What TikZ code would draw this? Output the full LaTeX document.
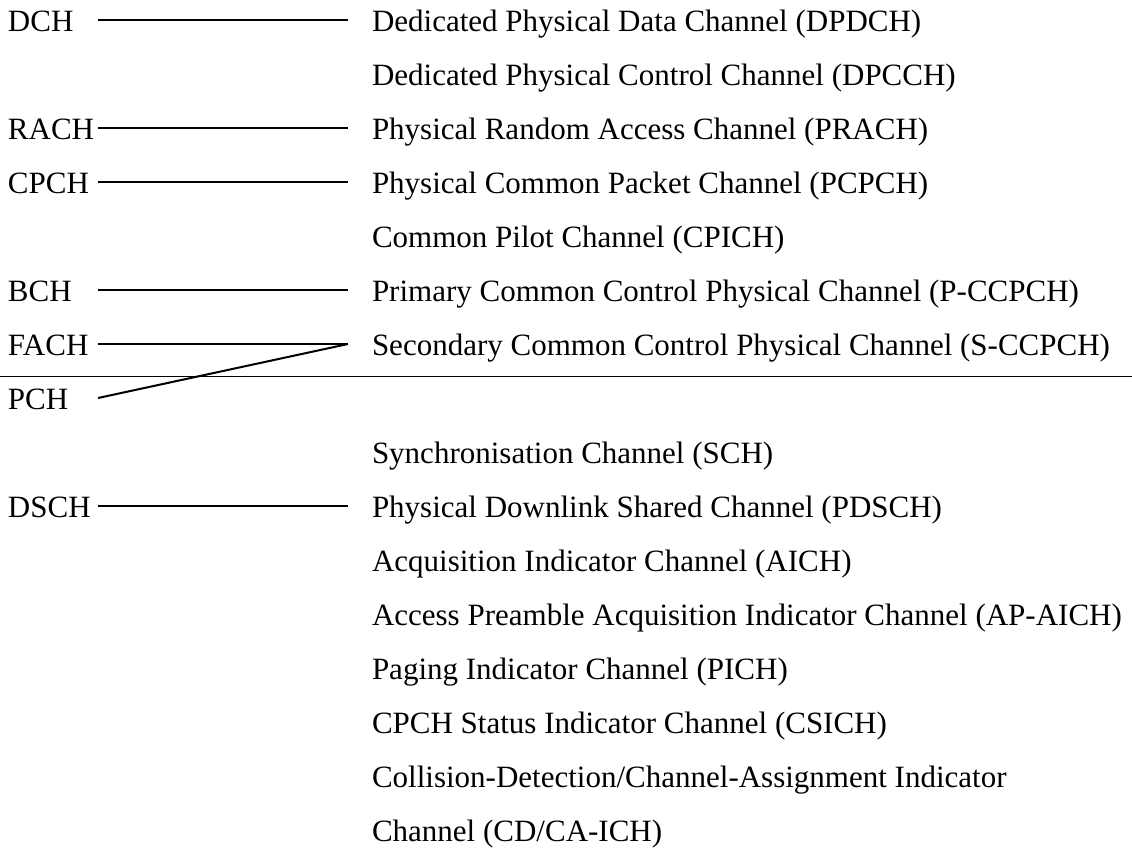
\documentclass[tikz,border=0pt]{standalone}
\usepackage{fontspec}
\setmainfont{Liberation Serif}

\begin{document}
\begin{tikzpicture}[x=1pt, y=-1pt,
  every node/.style={font=\fontsize{31}{36}\selectfont, inner sep=0pt,
    outer ysep=0pt, text height=22pt, text depth=0pt},
  transp/.style={anchor=base west, text width=82pt, align=left, outer xsep=8pt},
  phys/.style={anchor=base west, outer xsep=24pt},
  link/.style={line width=2pt}]
  \useasboundingbox (0,0) rectangle (1132,847);
  % canais de transporte
  \node[transp] (dch)  at (0,31)  {DCH};
  \node[transp] (rach) at (0,139) {RACH};
  \node[transp] (cpch) at (0,193) {CPCH};
  \node[transp] (bch)  at (0,301) {BCH};
  \node[transp] (fach) at (0,355) {FACH};
  \node[transp] (pch)  at (0,409) {PCH};
  \node[transp] (dsch) at (0,517) {DSCH};
  % canais fisicos
  \node[phys] (dpdch)  at (348,31)  {Dedicated Physical Data Channel (DPDCH)};
  \node[phys] (dpcch)  at (348,85)  {Dedicated Physical Control Channel (DPCCH)};
  \node[phys] (prach)  at (348,139) {Physical Random Access Channel (PRACH)};
  \node[phys] (pcpch)  at (348,193) {Physical Common Packet Channel (PCPCH)};
  \node[phys] (cpich)  at (348,247) {Common Pilot Channel (CPICH)};
  \node[phys] (pccpch) at (348,301) {Primary Common Control Physical Channel (P-CCPCH)};
  \node[phys] (sccpch) at (348,355) {Secondary Common Control Physical Channel (S-CCPCH)};
  \node[phys] (sch)    at (348,463) {Synchronisation Channel (SCH)};
  \node[phys] (pdsch)  at (348,517) {Physical Downlink Shared Channel (PDSCH)};
  \node[phys] (aich)   at (348,571) {Acquisition Indicator Channel (AICH)};
  \node[phys] (apaich) at (348,625) {Access Preamble Acquisition Indicator Channel (AP-AICH)};
  \node[phys] (pich)   at (348,679) {Paging Indicator Channel (PICH)};
  \node[phys] (csich)  at (348,733) {CPCH Status Indicator Channel (CSICH)};
  \node[phys] (cdca)   at (348,787) {Collision-Detection/Channel-Assignment Indicator};
  \node[phys] (cdca2)  at (348,841) {Channel (CD/CA-ICH)};
  % mapeamento
  \draw[link] (dch.east)  -- (dpdch.west);
  \draw[link] (rach.east) -- (prach.west);
  \draw[link] (cpch.east) -- (pcpch.west);
  \draw[link] (bch.east)  -- (pccpch.west);
  \draw[link] (fach.east) -- (sccpch.west);
  \draw[link] (pch.east)  -- (sccpch.west);
  \draw[link] (dsch.east) -- (pdsch.west);
  % separador
  \draw[line width=1pt] (0,376) -- (1132,376);
\end{tikzpicture}
\end{document}
